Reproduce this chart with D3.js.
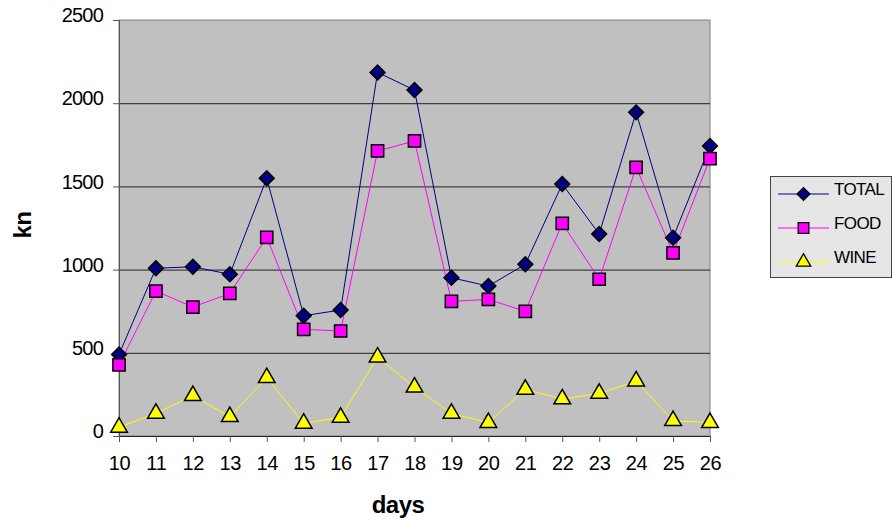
<!DOCTYPE html>
<html>
<head>
<meta charset="utf-8">
<script src="https://cdn.jsdelivr.net/npm/d3@7"></script>
<style>
  body { margin: 0; background: #fff; }
  svg { display: block; font-family: "Liberation Sans", Arial, sans-serif; }
</style>
</head>
<body>
<svg id="chart" width="892" height="524"></svg>
<script>
const days = [10, 11, 12, 13, 14, 15, 16, 17, 18, 19, 20, 21, 22, 23, 24, 25, 26];
const total = [490, 1008, 1017, 972, 1549, 723, 757, 2185, 2079, 951, 901, 1032, 1514, 1214, 1945, 1192, 1743];
const food = [427, 871, 775, 857, 1194, 641, 631, 1713, 1773, 809, 821, 749, 1278, 942, 1615, 1100, 1667];
const wine = [52, 136, 242, 116, 350, 76, 112, 473, 293, 136, 80, 280, 222, 256, 330, 92, 80];
const yTicks = [0, 500, 1000, 1500, 2000, 2500];

// diamond = square turned 45 degrees
const series = [
  { name: "TOTAL", values: total, color: "#000080", symbol: d3.symbolSquare, size: 110, rotate: 45 },
  { name: "FOOD", values: food, color: "#ff00ff", symbol: d3.symbolSquare, size: 150, rotate: 0 },
  { name: "WINE", values: wine, color: "#ffff00", symbol: d3.symbolTriangle, size: 120, rotate: 0 },
];

const svg = d3.select("#chart");
const plot = { left: 119, right: 710, top: 20, bottom: 436 };

const x = d3.scalePoint().domain(days).range([plot.left, plot.right]).padding(0);
const y = d3.scaleLinear().domain([0, 2500]).range([plot.bottom, plot.top]);

// plot background
svg.append("rect")
  .attr("x", plot.left).attr("y", plot.top)
  .attr("width", plot.right - plot.left).attr("height", plot.bottom - plot.top)
  .attr("fill", "#c0c0c0")
  .attr("stroke", "#808080");

// grid lines
svg.append("g")
  .selectAll("line")
  .data(yTicks.filter(d => d > 0 && d < 2500))
  .join("line")
  .attr("x1", plot.left).attr("x2", plot.right)
  .attr("y1", d => y(d) + 0.5).attr("y2", d => y(d) + 0.5)
  .attr("stroke", "#222");

// y axis
const yAxis = svg.append("g")
  .attr("transform", `translate(${plot.left},0)`)
  .call(d3.axisLeft(y).tickValues(yTicks).tickFormat(d3.format("d")).tickSize(6).tickPadding(10));
yAxis.select(".domain").attr("stroke", "#555");
yAxis.selectAll("line").attr("stroke", "#555");
yAxis.selectAll("text")
  .attr("font-size", "20px")
  .attr("letter-spacing", "-0.8px")
  .attr("fill", "#000")
  .attr("dy", "0.08em");

// x axis
const xAxis = svg.append("g")
  .attr("transform", `translate(0,${plot.bottom})`)
  .call(d3.axisBottom(x).tickSize(6).tickPadding(14));
xAxis.select(".domain").attr("stroke", "#222").attr("d", `M${plot.left},0.5H${plot.right}`);
xAxis.selectAll("line").attr("stroke", "#555");
xAxis.selectAll("text")
  .attr("font-size", "20px")
  .attr("letter-spacing", "-0.3px")
  .attr("fill", "#000");

// axis titles
svg.append("text")
  .attr("x", 398).attr("y", 513)
  .attr("text-anchor", "middle")
  .attr("font-size", "24px").attr("font-weight", "bold")
  .attr("letter-spacing", "-0.5px")
  .text("days");

svg.append("text")
  .attr("transform", "translate(31,225) rotate(-90)")
  .attr("text-anchor", "middle")
  .attr("font-size", "24px").attr("font-weight", "bold")
  .attr("letter-spacing", "-0.5px")
  .text("kn");

// lines and markers
const line = d3.line()
  .x((d, i) => x(days[i]))
  .y(d => y(d));

series.forEach(s => {
  svg.append("path")
    .attr("fill", "none")
    .attr("stroke", s.color)
    .attr("stroke-width", 1)
    .attr("d", line(s.values));
});

series.forEach(s => {
  const sym = d3.symbol().type(s.symbol).size(s.size);
  svg.append("g")
    .selectAll("path")
    .data(s.values)
    .join("path")
    .attr("transform", (d, i) => `translate(${x(days[i])},${y(d)}) rotate(${s.rotate})`)
    .attr("d", sym)
    .attr("fill", s.color)
    .attr("stroke", "#000")
    .attr("stroke-width", 1.5);
});

// legend
const legend = svg.append("g");
legend.append("rect")
  .attr("x", 770.5).attr("y", 176.5)
  .attr("width", 121).attr("height", 101)
  .attr("fill", "#e6e6e6")
  .attr("stroke", "#444");

const rows = legend.selectAll("g.item")
  .data(series)
  .join("g")
  .attr("class", "item")
  .attr("transform", (d, i) => `translate(0,${194 + i * 34})`);

rows.append("line")
  .attr("x1", 778).attr("x2", 829)
  .attr("stroke", d => d.color);
rows.append("path")
  .attr("transform", d => `translate(803.5,0) rotate(${d.rotate})`)
  .attr("d", d => d3.symbol().type(d.symbol).size(d.size * 0.75)())
  .attr("fill", d => d.color)
  .attr("stroke", "#000")
  .attr("stroke-width", 1.3);
rows.append("text")
  .attr("x", 834).attr("y", 0)
  .attr("dy", "0.05em")
  .attr("font-size", "17px")
  .attr("letter-spacing", "-0.6px")
  .text(d => d.name);
</script>
</body>
</html>
